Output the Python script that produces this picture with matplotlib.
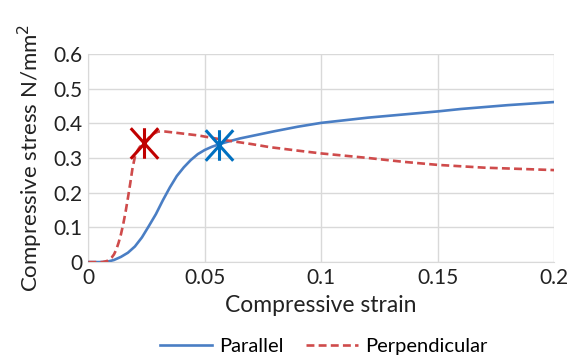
import matplotlib.pyplot as plt
from matplotlib.path import Path

plt.rcParams['font.family'] = ['Lato', 'DejaVu Sans']

# Parallel (blue)
par_x = [0, 0.005, 0.008, 0.011, 0.014, 0.017, 0.02, 0.023, 0.026, 0.029, 0.032, 0.035,
         0.038, 0.041, 0.044, 0.047, 0.05, 0.053, 0.056, 0.06, 0.065, 0.07, 0.08, 0.09,
         0.1, 0.12, 0.14, 0.15, 0.16, 0.18, 0.2]
par_y = [0, 0.0, 0.001, 0.006, 0.015, 0.027, 0.045, 0.071, 0.104, 0.138, 0.178, 0.215,
         0.248, 0.273, 0.294, 0.311, 0.323, 0.332, 0.339, 0.347, 0.356, 0.363, 0.377, 0.390,
         0.401, 0.416, 0.428, 0.434, 0.441, 0.452, 0.461]

# Perpendicular (red dashed)
per_x = [0, 0.006, 0.008, 0.01, 0.011, 0.012, 0.013, 0.014, 0.015, 0.016, 0.017, 0.018,
         0.019, 0.02, 0.021, 0.022, 0.024, 0.026, 0.028, 0.03, 0.033, 0.037, 0.042, 0.047,
         0.053, 0.06, 0.07, 0.078, 0.09, 0.1, 0.12, 0.135, 0.15, 0.17, 0.2]
per_y = [0, 0.0, 0.003, 0.013, 0.022, 0.036, 0.056, 0.08, 0.11, 0.145, 0.185, 0.227,
         0.272, 0.303, 0.32, 0.331, 0.344, 0.358, 0.37, 0.376, 0.376, 0.373, 0.369, 0.365,
         0.358, 0.35, 0.34, 0.331, 0.321, 0.313, 0.3, 0.289, 0.28, 0.272, 0.265]

# marked points
par_mark = (0.0563, 0.336)
per_mark = (0.0241, 0.344)

xticks = [0, 0.05, 0.1, 0.15, 0.2]
xticklabels = ['0', '0.05', '0.1', '0.15', '0.2']
yticks = [0, 0.1, 0.2, 0.3, 0.4, 0.5, 0.6]
yticklabels = ['0', '0.1', '0.2', '0.3', '0.4', '0.5', '0.6']

# Excel style star: vertical bar plus an X
star = Path([(0, -1), (0, 1), (-0.9, -1), (0.9, 1), (-0.9, 1), (0.9, -1)],
            [Path.MOVETO, Path.LINETO] * 3)

fig = plt.figure(figsize=(5.7, 3.61), dpi=100)
ax = fig.add_axes([0.155, 0.274, 0.817, 0.577])

ax.plot(par_x, par_y, color='#4A7EC4', lw=1.9, label='Parallel', zorder=3)
ax.plot(per_x, per_y, color='#CF4B4B', lw=1.9, ls=(0, (3, 1.6)), label='Perpendicular', zorder=3)
ax.plot(*per_mark, marker=star, ms=22, mew=2.2, color='#C00000', zorder=4)
ax.plot(*par_mark, marker=star, ms=22, mew=2.2, color='#0070C0', zorder=4)

ax.set_xlim(0, 0.2)
ax.set_ylim(0, 0.6)
ax.set_xticks(xticks)
ax.set_xticklabels(xticklabels)
ax.set_yticks(yticks)
ax.set_yticklabels(yticklabels)
ax.tick_params(length=0, labelsize=15, colors='#222222', pad=4)
ax.grid(color='#D9D9D9', lw=1)
ax.set_axisbelow(True)
for s in ['top', 'right']:
    ax.spines[s].set_visible(False)
for s in ['left', 'bottom']:
    ax.spines[s].set_color('#D9D9D9')

ax.set_xlabel('Compressive strain', fontsize=16.5, color='#222222', labelpad=5)
ax.set_ylabel('Compressive stress N/mm$^2$', fontsize=16, color='#222222', labelpad=6)

fig.legend(loc='center', bbox_to_anchor=(0.568, 0.04), ncol=2, frameon=False,
           fontsize=14.5, handlelength=2.6, columnspacing=1.1, handletextpad=0.35)

fig.savefig('out.png', dpi=100)
